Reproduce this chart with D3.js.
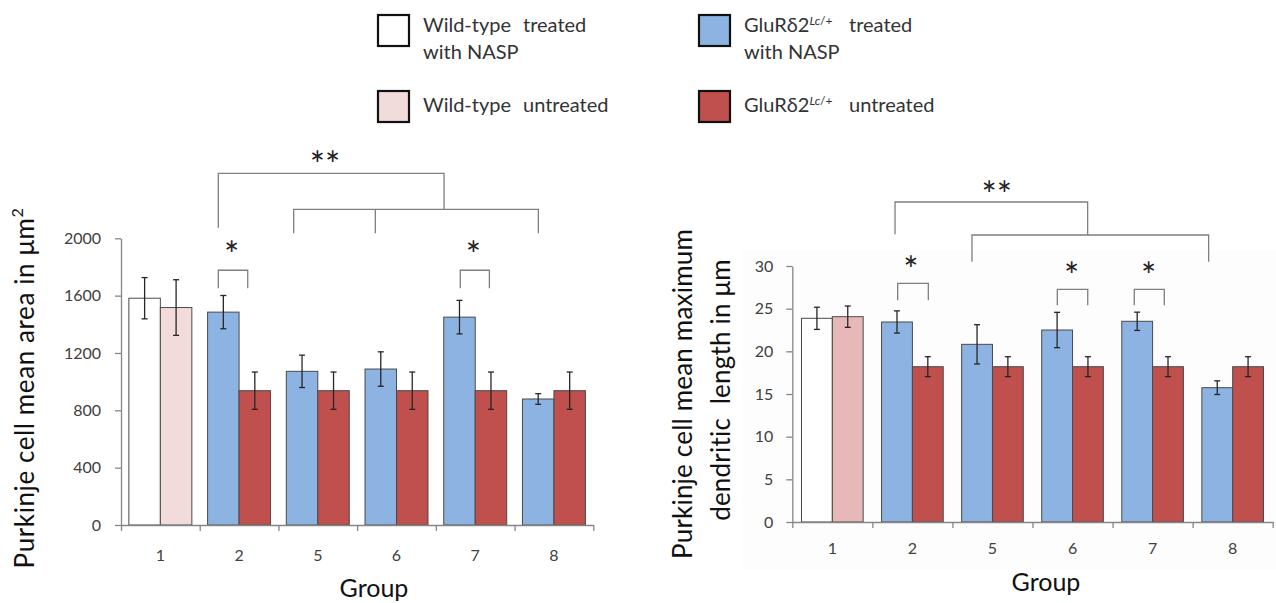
<!DOCTYPE html>
<html>
<head>
<meta charset="utf-8">
<script src="https://cdn.jsdelivr.net/npm/d3@7"></script>
<style>
body { margin: 0; background: #fff; }
text { font-family: Lato, "Open Sans", sans-serif; white-space: pre; }
</style>
</head>
<body>
<div id="plot-area"></div>
<script>
// groups on the x axis
groups = ["1", "2", "5", "6", "7", "8"]

// left panel: mean area (um^2); first group is wild-type, rest GluRd2 Lc/+
areaTreated = [1582, 1485, 1072, 1088, 1450, 879]
areaTreatedErr = [144, 116, 113, 120, 117, 37]
areaUntreated = [1517, 937, 937, 937, 937, 937]
areaUntreatedErr = [194, 130, 130, 130, 130, 130]
areaTicks = [0, 400, 800, 1200, 1600, 2000]

// right panel: mean maximum dendritic length (um)
lengthTreated = [23.87, 23.44, 20.82, 22.5, 23.52, 15.74]
lengthTreatedErr = [1.3, 1.3, 2.3, 2.07, 1.07, 0.8]
lengthUntreated = [24.06, 18.2, 18.2, 18.2, 18.2, 18.2]
lengthUntreatedErr = [1.25, 1.17, 1.17, 1.17, 1.17, 1.17]
lengthTicks = [0, 5, 10, 15, 20, 25, 30]

// significance brackets: points as [group position, value]
areaBrackets = [
    [[1.236, 2074], [1.236, 2453], [4.104, 2453], [4.104, 2202]],
    [[2.194, 2035], [2.194, 2202], [5.302, 2202], [5.302, 2035]],
    [[3.231, 2035], [3.231, 2202]],
    [[1.236, 1651], [1.236, 1777], [1.61, 1777], [1.61, 1651]],
    [[4.31, 1651], [4.31, 1777], [4.68, 1777], [4.68, 1651]]
]
areaStars = [["**", 2.592, 2558], ["*", 1.407, 1930], ["*", 4.476, 1930]]

lengthBrackets = [
    [[1.283, 33.72], [1.283, 37.5], [3.689, 37.5], [3.689, 33.63]],
    [[2.244, 30.5], [2.244, 33.63], [5.2, 33.63], [5.2, 30.5]],
    [[1.316, 26.0], [1.316, 27.97], [1.699, 27.97], [1.699, 26.0]],
    [[3.31, 25.4], [3.31, 27.27], [3.69, 27.27], [3.69, 25.4]],
    [[4.271, 25.4], [4.271, 27.27], [4.646, 27.27], [4.646, 25.4]]
]
lengthStars = [["**", 2.553, 39.1], ["*", 1.482, 30.39], ["*", 3.489, 29.65], ["*", 4.451, 29.65]]

// legend: [first word, second word], extra line
legendItems = [
    {words: ["Wild-type", "treated"], extra: "with NASP", color: "#ffffff", glu: false},
    {words: ["Wild-type", "untreated"], extra: null, color: "#f2dcdb", glu: false},
    {words: ["", "treated"], extra: "with NASP", color: "#8db3e2", glu: true},
    {words: ["", "untreated"], extra: null, color: "#c0504d", glu: true}
]

svg = d3.select("#plot-area").append("svg")
    .attr("width", 1276)
    .attr("height", 603)

function drawPanel(p) {

    g = svg.append("g")

    if (p.bg) {
        g.append("rect")
            .attr("x", p.bg[0]).attr("y", p.bg[1])
            .attr("width", p.bg[2]).attr("height", p.bg[3])
            .attr("fill", "#fdfdfd")
    }

    x = d3.scaleBand()
        .domain(groups)
        .range([p.left, p.right])
        .paddingInner(p.pad)
        .paddingOuter(p.pad / 2)

    sub = d3.scaleBand()
        .domain(["t", "u"])
        .range([0, x.bandwidth()])

    pos = d3.scaleLinear().domain([0, groups.length]).range([p.left, p.right])

    y = d3.scaleLinear().domain([0, p.max]).range([p.bottom, p.top])

    rows = groups.map(function(name, i) {
        return [
            {g: name, k: "t", v: p.treated[i], e: p.treatedErr[i],
             fill: i == 0 ? "#ffffff" : "#8db3e2"},
            {g: name, k: "u", v: p.untreated[i], e: p.untreatedErr[i],
             fill: i == 0 ? p.pink : "#c0504d"}
        ]
    }).flat()

    g.selectAll(".bar")
        .data(rows).enter()
        .append("rect")
        .attr("class", "bar")
        .attr("x", function(d) { return x(d.g) + sub(d.k) })
        .attr("y", function(d) { return y(d.v) })
        .attr("width", sub.bandwidth())
        .attr("height", function(d) { return y(0) - y(d.v) })
        .attr("fill", function(d) { return d.fill })
        .attr("stroke", "#4a4a4a")
        .attr("stroke-width", 1)

    // error bars
    eb = g.selectAll(".err")
        .data(rows).enter()
        .append("g")
        .attr("class", "err")
        .attr("stroke", "#262626")
        .attr("stroke-width", 1.3)

    cx = function(d) { return x(d.g) + sub(d.k) + sub.bandwidth() / 2 }

    eb.append("line")
        .attr("x1", cx).attr("x2", cx)
        .attr("y1", function(d) { return y(d.v - d.e) })
        .attr("y2", function(d) { return y(d.v + d.e) })
    eb.append("line")
        .attr("x1", function(d) { return cx(d) - 3 }).attr("x2", function(d) { return cx(d) + 3 })
        .attr("y1", function(d) { return y(d.v + d.e) })
        .attr("y2", function(d) { return y(d.v + d.e) })
    eb.append("line")
        .attr("x1", function(d) { return cx(d) - 3 }).attr("x2", function(d) { return cx(d) + 3 })
        .attr("y1", function(d) { return y(d.v - d.e) })
        .attr("y2", function(d) { return y(d.v - d.e) })

    // axes
    yAxis = d3.axisLeft(y).tickValues(p.ticks).tickFormat(d3.format("d"))
        .tickSize(6).tickSizeOuter(0).tickPadding(p.yPad)
    g.append("g")
        .attr("class", "axis y-axis")
        .attr("transform", "translate(" + p.left + ",0)")
        .call(yAxis)

    boundAxis = d3.axisBottom(pos).tickValues(d3.range(groups.length + 1))
        .tickSize(6).tickSizeOuter(0).tickFormat("")
    g.append("g")
        .attr("class", "axis x-axis")
        .attr("transform", "translate(0," + p.bottom + ")")
        .call(boundAxis)

    labelAxis = d3.axisBottom(x).tickSize(0).tickPadding(p.xPad)
    lab = g.append("g")
        .attr("class", "axis x-labels")
        .attr("transform", "translate(0," + p.bottom + ")")
        .call(labelAxis)
    lab.select(".domain").remove()

    g.selectAll(".axis path, .axis line").attr("stroke", "#868686").attr("stroke-width", 1.3)
    g.selectAll(".axis text")
        .attr("font-family", "Lato, sans-serif")
        .attr("font-size", 16)
        .attr("fill", "#404040")

    // brackets and stars
    line = d3.line()
        .x(function(d) { return pos(d[0]) })
        .y(function(d) { return y(d[1]) })

    g.selectAll(".bracket")
        .data(p.brackets).enter()
        .append("path")
        .attr("class", "bracket")
        .attr("d", line)
        .attr("fill", "none")
        .attr("stroke", "#7f7f7f")
        .attr("stroke-width", 1.3)

    g.selectAll(".star")
        .data(p.stars).enter()
        .append("text")
        .attr("class", "star")
        .attr("x", function(d) { return pos(d[1]) })
        .attr("y", function(d) { return y(d[2]) + 20 })
        .attr("text-anchor", "middle")
        .attr("font-family", "DejaVu Sans, sans-serif")
        .attr("font-size", 36)
        .attr("fill", "#222")
        .text(function(d) { return d[0] })

    g.append("text")
        .attr("x", p.groupX)
        .attr("y", p.groupY)
        .attr("text-anchor", "middle")
        .attr("font-size", 25)
        .attr("fill", "#111")
        .text("Group")

    p.yLabel.forEach(function(t, i) {
        lbl = g.append("text")
            .attr("transform", "translate(" + t.x + "," + t.y + ") rotate(-90)")
            .attr("text-anchor", "middle")
            .attr("font-size", 26)
            .attr("letter-spacing", t.ls)
            .attr("fill", "#111")
            .text(t.text)
        if (t.sup) {
            lbl.append("tspan")
                .attr("dy", -11)
                .attr("font-size", 16)
                .text(t.sup)
        }
    })
}

drawPanel({
    left: 121, right: 593.3, top: 238.3, bottom: 525, pad: 0.2,
    max: 2000, ticks: areaTicks, yPad: 14, xPad: 25,
    treated: areaTreated, treatedErr: areaTreatedErr,
    untreated: areaUntreated, untreatedErr: areaUntreatedErr,
    pink: "#f2dcdb",
    brackets: areaBrackets, stars: areaStars,
    groupX: 374, groupY: 597,
    yLabel: [{text: "Purkinje cell mean area in \u03bcm", sup: "2", x: 34, y: 388, ls: 0.6}]
})

drawPanel({
    left: 792.3, right: 1272.7, top: 266, bottom: 522, pad: 0.23,
    max: 30, ticks: lengthTicks, yPad: 13, xPad: 21,
    treated: lengthTreated, treatedErr: lengthTreatedErr,
    untreated: lengthUntreated, untreatedErr: lengthUntreatedErr,
    pink: "#e6b9b8",
    brackets: lengthBrackets, stars: lengthStars,
    groupX: 1046, groupY: 591,
    bg: [742, 250, 534, 320],
    yLabel: [
        {text: "Purkinje cell mean maximum", x: 692, y: 394, ls: 0.2},
        {text: "dendritic  length in \u03bcm", x: 730, y: 390, ls: 0.2}
    ]
})

// legend
legend = svg.append("g").attr("class", "legend")
legendPos = [[378, 15], [378, 91], [699, 15], [699, 91]]

legendItems.forEach(function(d, i) {
    lx = legendPos[i][0]
    ly = legendPos[i][1]
    legend.append("rect")
        .attr("x", lx).attr("y", ly)
        .attr("width", 31).attr("height", 31)
        .attr("fill", d.color)
        .attr("stroke", "#111")
        .attr("stroke-width", 2.2)

    base = ly + (d.extra ? 17 : 21)

    txt = legend.append("text")
        .attr("x", lx + 45)
        .attr("y", base)
        .attr("font-size", 20)
        .attr("fill", "#333")
    if (d.glu) {
        txt.append("tspan").text("GluR\u03b42")
        txt.append("tspan").attr("dy", -7).attr("font-size", 12)
            .attr("font-style", "italic").text("Lc")
        txt.append("tspan").attr("font-size", 12).text("/+")
    } else {
        txt.text(d.words[0])
    }

    legend.append("text")
        .attr("x", lx + (d.glu ? 150 : 145))
        .attr("y", base)
        .attr("font-size", 20)
        .attr("fill", "#333")
        .text(d.words[1])

    if (d.extra) {
        legend.append("text")
            .attr("x", lx + 45)
            .attr("y", base + 27)
            .attr("font-size", 20)
            .attr("fill", "#333")
            .text(d.extra)
    }
})
</script>
</body>
</html>
